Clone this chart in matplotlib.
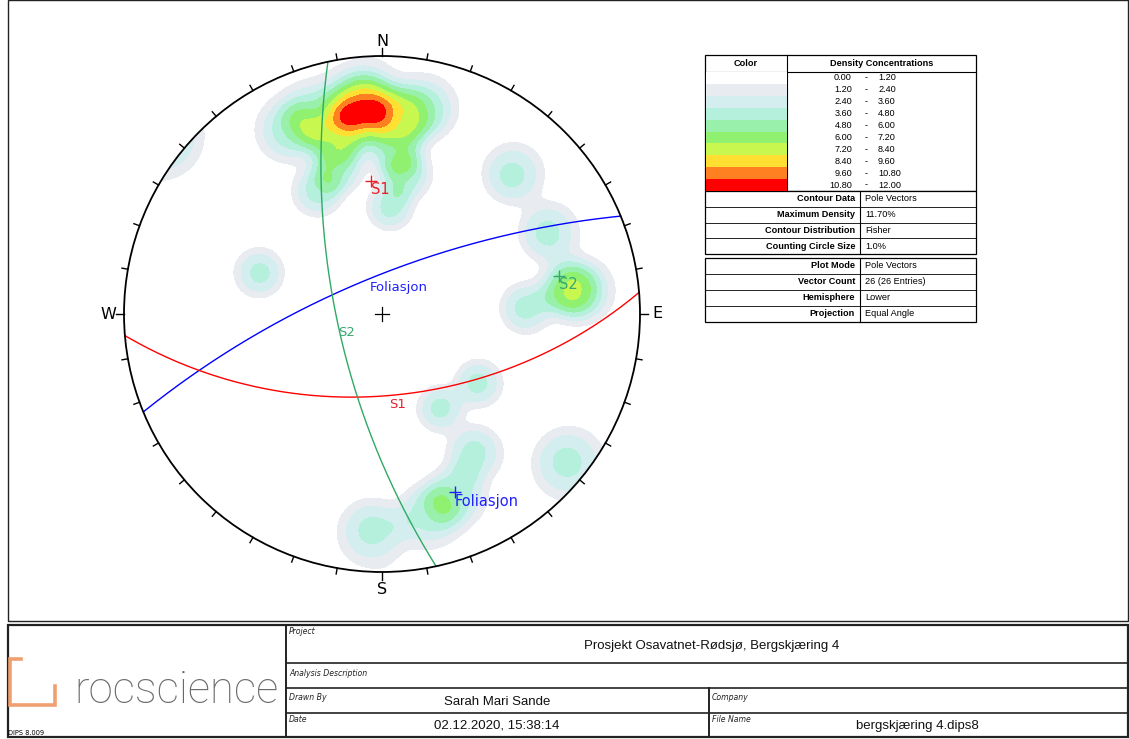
import numpy as np
import matplotlib
matplotlib.use("Agg")
import matplotlib.pyplot as plt
from matplotlib.patches import Circle, Rectangle

# ---------------------------------------------------------------- data
# measured pole vectors (trend / plunge, degrees), lower hemisphere
pole_trend = [353.3, 357.0, 354.1, 345.2, 343.2, 4.9, 9.9, 332.9, 5.8, 341.4,
              332.3, 4.3, 11.9,
              288.6, 43.1, 63.9, 182.7, 128.7, 148.3, 125.7,
              82.3, 83.4, 87.6,
              167.0, 157.9, 146.3]
pole_plunge = [10.3, 11.6, 16.4, 20.2, 28.8, 25.6, 33.0, 13.2, 15.3, 11.7,
               33.8, 45.2, 12.1,
               37.0, 17.2, 19.0, 10.0, 4.9, 43.6, 40.8,
               18.5, 14.6, 32.0,
               13.0, 16.0, 24.5]

# density bins (%) and their fill colours
density_levels = [0.0, 1.2, 2.4, 3.6, 4.8, 6.0, 7.2, 8.4, 9.6, 10.8, 12.0]
density_colors = ["#ffffff", "#e8ecf1", "#d4eef0", "#b4f0dc", "#98f0aa",
                  "#90f070", "#c8f850", "#ffe032", "#ff8020", "#ff0000"]

# mean planes of the joint sets
plane_names = ["Foliasjon", "S1", "S2"]
plane_dipdir = [337.7, 175.2, 257.9]
plane_dip = [73.5, 54.8, 70.1]
plane_colors = ["#0000ff", "#ff0000", "#2eaa64"]
plane_label_colors = ["#2020ff", "#e8202a", "#3aa672"]

legend_info = [("Contour Data", "Pole Vectors"),
               ("Maximum Density", "11.70%"),
               ("Contour Distribution", "Fisher"),
               ("Counting Circle Size", "1.0%")]
plot_info = [("Plot Mode", "Pole Vectors"),
             ("Vector Count", "{n} ({n} Entries)"),
             ("Hemisphere", "Lower"),
             ("Projection", "Equal Angle")]

# ---------------------------------------------------------------- geometry
CX, CY, R = 382.0, 314.0, 258.0
KERNEL_WIDTH = 8.5  # degrees


def to_xyz(trend, plunge):
    t = np.radians(trend)
    p = np.radians(plunge)
    return np.cos(p) * np.sin(t), np.cos(p) * np.cos(t), np.sin(p)


def project(e, n, d):
    """Equal-angle lower-hemisphere projection to page pixels."""
    e, n, d = np.asarray(e, float), np.asarray(n, float), np.asarray(d, float)
    s = np.where(d < 0, -1.0, 1.0)
    e, n, d = e * s, n * s, d * s
    x = e / (1 + d)
    y = n / (1 + d)
    return CX + R * x, CY - R * y


fig = plt.figure(figsize=(11.29, 7.39), dpi=100)
ax = fig.add_axes([0, 0, 1, 1])
ax.set_xlim(0, 1129)
ax.set_ylim(739, 0)
ax.axis("off")

# ---------------------------------------------------------------- density
g = np.linspace(-1.03, 1.03, 131)
GX, GY = np.meshgrid(g, g)
r2 = GX ** 2 + GY ** 2
GE = 2 * GX / (1 + r2)
GN = 2 * GY / (1 + r2)
GD = (1 - r2) / (1 + r2)
pe, pn, pd = to_xyz(np.array(pole_trend), np.array(pole_plunge))
dens = np.zeros_like(GX)
for e, n, d in zip(pe, pn, pd):
    c = np.clip(np.abs(GE * e + GN * n + GD * d), 0, 1)
    ang = np.degrees(np.arccos(c))
    dens += np.exp(-(ang / KERNEL_WIDTH) ** 3)
dens *= 100.0 / len(pole_trend)

net = Circle((CX, CY), R, transform=ax.transData, fc="none", ec="none")
ax.add_patch(net)
cs = ax.contourf(CX + R * GX, CY - R * GY, dens, levels=density_levels,
                 colors=density_colors, extend="neither", zorder=1)
cs.set_clip_path(net)

# primitive circle, centre and compass ticks
ax.add_patch(Circle((CX, CY), R, fc="none", ec="black", lw=1.3, zorder=5))
ax.plot([CX - 7, CX + 7], [CY, CY], color="black", lw=0.9, zorder=5)
ax.plot([CX, CX], [CY - 7, CY + 7], color="black", lw=0.9, zorder=5)
for az in range(0, 360, 10):
    a = np.radians(az)
    ln = 8 if az % 90 == 0 else 6
    ax.plot([CX + R * np.sin(a), CX + (R + ln) * np.sin(a)],
            [CY - R * np.cos(a), CY - (R + ln) * np.cos(a)],
            color="black", lw=1.0, zorder=5)
for lab, az, off in zip("NESW", (0, 90, 180, 270), (15, 17, 18, 16)):
    a = np.radians(az)
    ax.text(CX + (R + off) * np.sin(a), CY - (R + off) * np.cos(a), lab,
            ha="center", va="center", fontsize=11.5, family="DejaVu Sans",
            zorder=6)

# great circles and their poles
t = np.linspace(0, np.pi, 200)
for name, ddir, dip, col, lcol in zip(plane_names, plane_dipdir, plane_dip,
                                      plane_colors, plane_label_colors):
    se, sn, sd = to_xyz(ddir - 90, 0)
    de, dn, dd = to_xyz(ddir, dip)
    px, py = project(se * np.cos(t) + de * np.sin(t),
                     sn * np.cos(t) + dn * np.sin(t),
                     sd * np.cos(t) + dd * np.sin(t))
    ax.plot(px, py, color=col, lw=1.0, zorder=4)
    qx, qy = project(*to_xyz(ddir + 180, 90 - dip))
    ax.plot(qx, qy, marker="+", ms=9, mew=1.0, color=lcol, zorder=6)
    ax.annotate(name, (qx, qy), xytext=(0, -1), textcoords="offset points",
                ha="left", va="top", fontsize=10.5, color=lcol, zorder=6)

# set names written along the great circles
ax.text(399, 288, "Foliasjon", color=plane_label_colors[0], fontsize=9.5,
        ha="center", va="center", zorder=6)
ax.text(398, 404, "S1", color=plane_label_colors[1], fontsize=9.5,
        ha="center", va="center", zorder=6)
ax.text(347, 333, "S2", color=plane_label_colors[2], fontsize=9.5,
        ha="center", va="center", zorder=6)

# ---------------------------------------------------------------- legend table
TF = dict(family="Liberation Sans", fontsize=6.6, color="black")
x0, x1, xc = 705, 976, 787
ytop, yhead = 55, 72
rh = 11.9
nrow = len(density_colors)
ybot = yhead + rh * nrow
ax.add_patch(Rectangle((x0, ytop), x1 - x0, ybot - ytop, fc="white",
                       ec="black", lw=0.9, zorder=3))
ax.plot([x0, x1], [yhead, yhead], color="black", lw=0.8, zorder=4)
ax.plot([xc, xc], [ytop, ybot], color="black", lw=0.8, zorder=4)
ax.text((x0 + xc) / 2, (ytop + yhead) / 2, "Color", ha="center", va="center",
        weight="bold", **TF)
ax.text((xc + x1) / 2, (ytop + yhead) / 2, "Density Concentrations",
        ha="center", va="center", weight="bold", **TF)
for i, col in enumerate(density_colors):
    y = yhead + i * rh
    ax.add_patch(Rectangle((x0 + 1, y), xc - x0 - 1, rh, fc=col, ec="none",
                           zorder=4))
    ym = y + rh / 2
    ax.text(852, ym, f"{density_levels[i]:.2f}", ha="right", va="center", **TF)
    ax.text(866, ym, "-", ha="center", va="center", **TF)
    ax.text(878, ym, f"{density_levels[i + 1]:.2f}", ha="left", va="center",
            **TF)


def info_box(ytop, rows, rh):
    xs = 860
    h = rh * len(rows)
    ax.add_patch(Rectangle((x0, ytop), x1 - x0, h, fc="white", ec="black",
                           lw=0.9, zorder=3))
    ax.plot([xs, xs], [ytop, ytop + h], color="black", lw=0.8, zorder=4)
    for i, (k, v) in enumerate(rows):
        y = ytop + i * rh
        if i:
            ax.plot([x0, x1], [y, y], color="black", lw=0.6, zorder=4)
        ax.text(xs - 5, y + rh / 2, k, ha="right", va="center", weight="bold",
                **TF)
        ax.text(xs + 5, y + rh / 2, v, ha="left", va="center", **TF)


info_box(ybot, legend_info, 15.75)
n = len(pole_trend)
info_box(258, [(k, v.format(n=n)) for k, v in plot_info], 16)

# ---------------------------------------------------------------- frames
ax.add_patch(Rectangle((8, 0), 1120, 621, fc="none", ec="#222222", lw=1.0))
ax.add_patch(Rectangle((8, 625), 1120, 112, fc="none", ec="#222222", lw=1.6))
ax.plot([286, 286], [625, 737], color="#222222", lw=1.4)
for y in (663, 688, 713):
    ax.plot([286, 1128], [y, y], color="#222222", lw=1.2)
ax.plot([709, 709], [688, 737], color="#222222", lw=1.4)

# logo
ax.plot([21, 10, 10, 55, 55], [659, 659, 705, 705, 686], color="#f0a070",
        lw=2.6, solid_joinstyle="miter")
ax.text(74, 691, "rocscience", fontsize=31.5, family="Roboto", weight="light",
        color="#6a6a6a", ha="left", va="center")
ax.text(8, 733, "DIPS 8.009", fontsize=4.8, family="DejaVu Sans",
        ha="left", va="center")

LF = dict(fontsize=5.6, style="italic", family="DejaVu Sans", ha="left",
          va="center", color="#222222")
ax.text(289, 632, "Project", **LF)
ax.text(289, 673, "Analysis Description", **LF)
ax.text(289, 697, "Drawn By", **LF)
ax.text(289, 719, "Date", **LF)
ax.text(712, 697, "Company", **LF)
ax.text(712, 719, "File Name", **LF)

VF = dict(family="Liberation Sans", fontsize=9.5, ha="center", va="center",
          color="#111111")
ax.text(712, 646, "Prosjekt Osavatnet-Rødsjø, Bergskjæring 4", **VF)
ax.text(497, 702, "Sarah Mari Sande", **VF)
ax.text(497, 726, "02.12.2020, 15:38:14", **VF)
ax.text(917, 726, "bergskjæring 4.dips8", **VF)

fig.savefig("out.png", dpi=100)
